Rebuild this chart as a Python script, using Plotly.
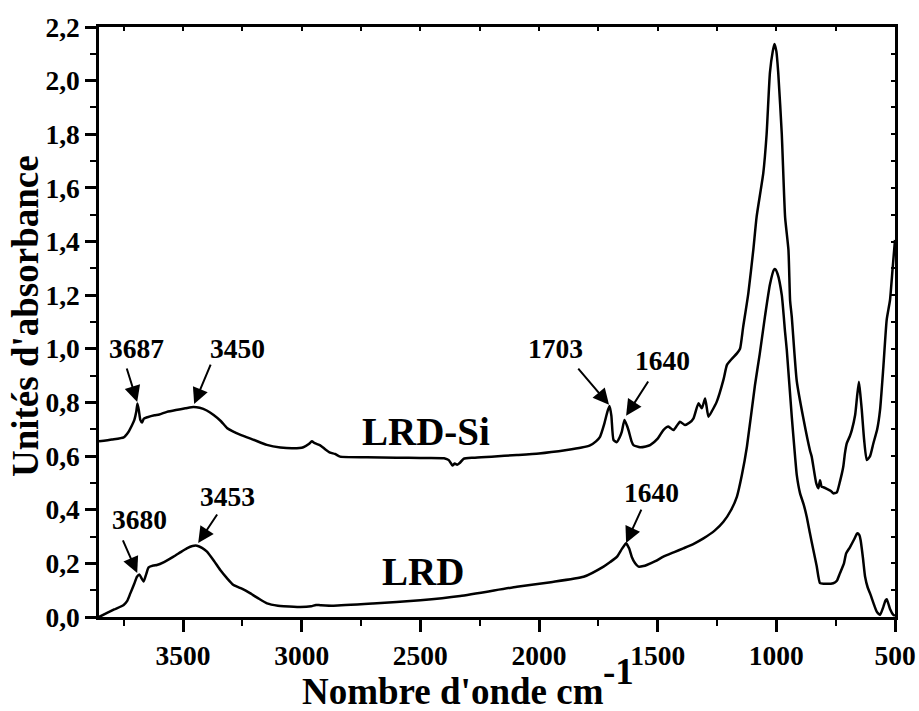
import plotly.graph_objects as go

# ---- data (wavenumber cm-1, absorbance) ----
lrdsi_x = [3854, 3800, 3750, 3730, 3715, 3705, 3697, 3692, 3686, 3680, 3673, 3665, 3650, 3620, 3600,
           3568, 3530, 3490, 3456, 3430, 3400, 3371, 3340, 3315, 3290, 3260, 3200, 3147, 3090, 3035,
           2993, 2970, 2957, 2945, 2922, 2900, 2880, 2860, 2838, 2725, 2600, 2500, 2400, 2380, 2365,
           2355, 2345, 2333, 2318, 2276, 2200, 2093, 2000, 1883, 1820, 1785, 1760, 1743, 1725, 1712,
           1703, 1695, 1686, 1672, 1660, 1651, 1640, 1630, 1623, 1610, 1602, 1574, 1550, 1532, 1500,
           1476, 1455, 1434, 1420, 1406, 1385, 1365, 1349, 1328, 1314, 1300, 1286, 1270, 1251, 1223,
           1208, 1190, 1166, 1153, 1140, 1118, 1097, 1083, 1055, 1041, 1027, 1015, 1008, 1000, 992,
           977, 963, 949, 942, 935, 914, 886, 858, 851, 832, 823, 816, 809, 802, 785,
           770, 760, 745, 732, 718, 711, 703, 690, 682, 668, 660, 652, 645, 640, 630,
           619, 605, 591, 575, 563, 549, 535, 521, 510, 500]
lrdsi_y = [0.655, 0.662, 0.670, 0.690, 0.715, 0.735, 0.765, 0.796, 0.770, 0.735, 0.725, 0.740, 0.745, 0.752, 0.755,
           0.765, 0.772, 0.778, 0.783, 0.780, 0.770, 0.753, 0.730, 0.705, 0.692, 0.680, 0.660, 0.642, 0.632, 0.629,
           0.633, 0.645, 0.655, 0.648, 0.640, 0.625, 0.613, 0.608, 0.598, 0.596, 0.594, 0.593, 0.592, 0.585, 0.565,
           0.572, 0.568, 0.575, 0.590, 0.594, 0.598, 0.604, 0.610, 0.623, 0.632, 0.640, 0.655, 0.672, 0.720, 0.765,
           0.787, 0.750, 0.660, 0.652, 0.670, 0.691, 0.735, 0.715, 0.697, 0.655, 0.641, 0.633, 0.636, 0.641, 0.665,
           0.697, 0.710, 0.697, 0.712, 0.728, 0.716, 0.725, 0.741, 0.797, 0.778, 0.815, 0.747, 0.770, 0.803, 0.884,
           0.940, 0.960, 0.983, 1.000, 1.080, 1.207, 1.369, 1.493, 1.655, 1.800, 2.030, 2.110, 2.137, 2.110, 2.030,
           1.800, 1.490, 1.369, 1.180, 1.120, 0.880, 0.740, 0.620, 0.598, 0.499, 0.480, 0.510, 0.485, 0.484, 0.477,
           0.470, 0.461, 0.465, 0.505, 0.560, 0.610, 0.648, 0.675, 0.697, 0.753, 0.820, 0.877, 0.820, 0.772, 0.660,
           0.585, 0.600, 0.648, 0.700, 0.772, 0.933, 1.108, 1.182, 1.300, 1.406]

lrd_x = [3854, 3820, 3790, 3750, 3735, 3722, 3705, 3694, 3683, 3675, 3666, 3655, 3645, 3625, 3610,
         3580, 3540, 3510, 3484, 3460, 3441, 3420, 3399, 3370, 3343, 3315, 3287, 3250, 3216, 3180,
         3146, 3100, 3076, 3006, 2960, 2940, 2922, 2866, 2700, 2500, 2332, 2093, 1950, 1812, 1728,
         1700, 1672, 1650, 1633, 1620, 1609, 1595, 1581, 1560, 1546, 1510, 1476, 1430, 1392, 1350,
         1307, 1260, 1223, 1190, 1166, 1145, 1124, 1090, 1070, 1048, 1027, 1010, 1005, 995, 977,
         963, 956, 935, 921, 914, 900, 885, 872, 858, 844, 830, 816, 800, 760, 745,
         732, 715, 706, 690, 672, 659, 650, 645, 635, 626, 615, 605, 590, 577, 563,
         549, 540, 535, 528, 521, 507, 500]
lrd_y = [0.000, 0.015, 0.028, 0.045, 0.060, 0.088, 0.125, 0.150, 0.158, 0.145, 0.132, 0.160, 0.185, 0.192, 0.194,
         0.205, 0.225, 0.242, 0.256, 0.265, 0.266, 0.258, 0.244, 0.210, 0.175, 0.145, 0.119, 0.105, 0.088, 0.068,
         0.051, 0.042, 0.040, 0.037, 0.040, 0.045, 0.044, 0.042, 0.050, 0.062, 0.078, 0.113, 0.130, 0.150, 0.188,
         0.205, 0.224, 0.255, 0.275, 0.255, 0.224, 0.200, 0.188, 0.190, 0.194, 0.208, 0.225, 0.242, 0.256, 0.272,
         0.293, 0.322, 0.355, 0.400, 0.449, 0.530, 0.635, 0.865, 0.980, 1.120, 1.240, 1.295, 1.297, 1.280, 1.200,
         1.060, 0.996, 0.747, 0.598, 0.530, 0.461, 0.420, 0.374, 0.310, 0.250, 0.190, 0.126, 0.124, 0.126, 0.135,
         0.163, 0.200, 0.237, 0.260, 0.290, 0.312, 0.305, 0.287, 0.220, 0.150, 0.110, 0.088, 0.050, 0.020, 0.008,
         0.038, 0.062, 0.066, 0.050, 0.030, 0.008, 0.005]

x_ticks = [3500, 3000, 2500, 2000, 1500, 1000, 500]
x_minor = [3750, 3250, 2750, 2250, 1750, 1250, 750]
y_ticks = [0.0, 0.2, 0.4, 0.6, 0.8, 1.0, 1.2, 1.4, 1.6, 1.8, 2.0, 2.2]
x_range = [3854, 500]
y_range = [0, 2.2]

# peak labels: (text, text_x, text_y, tail_x, tail_y, head_x, head_y)
peak_labels = [
    ("3687", 3697, 1.003, 3739, 0.932, 3693, 0.802),
    ("3450", 3272, 1.003, 3381, 0.947, 3453, 0.794),
    ("3680", 3685, 0.362, 3756, 0.291, 3693, 0.164),
    ("3453", 3314, 0.451, 3352, 0.388, 3436, 0.276),
    ("1703", 1932, 1.003, 1840, 0.932, 1705, 0.791),
    ("1640", 1481, 0.958, 1536, 0.884, 1633, 0.750),
    ("1640", 1528, 0.466, 1566, 0.406, 1633, 0.276),
]
series_labels = [("LRD-Si", 2476, 0.69), ("LRD", 2488, 0.168)]

FONT = "Liberation Serif"

fig = go.Figure()
fig.add_trace(go.Scatter(x=lrdsi_x, y=lrdsi_y, mode="lines", name="LRD-Si",
                         line=dict(color="black", width=2.5, shape="spline", smoothing=0.5)))
fig.add_trace(go.Scatter(x=lrd_x, y=lrd_y, mode="lines", name="LRD",
                         line=dict(color="black", width=2.5, shape="spline", smoothing=0.5)))
# invisible trace carrying the mirrored top/right axes (inner ticks)
fig.add_trace(go.Scatter(x=lrd_x, y=lrd_y, mode="lines", xaxis="x2", yaxis="y2",
                         line=dict(color="rgba(0,0,0,0)", width=1), hoverinfo="skip",
                         showlegend=False))

anns = []
for t, tx, ty, ax, ay, hx, hy in peak_labels:
    anns.append(dict(x=tx, y=ty, xref="x", yref="y", text=t, showarrow=False,
                     font=dict(family=FONT, size=27.5, color="black", weight="bold")))
    anns.append(dict(x=hx, y=hy, ax=ax, ay=ay, xref="x", yref="y", axref="x", ayref="y",
                     text="", showarrow=True, arrowhead=2, arrowsize=1.6, arrowwidth=2,
                     arrowcolor="black", standoff=0, startstandoff=0))
for t, tx, ty in series_labels:
    anns.append(dict(x=tx, y=ty, xref="x", yref="y", text=t, showarrow=False,
                     font=dict(family=FONT, size=39, color="black", weight="bold")))

# axis titles
anns.append(dict(x=-0.093, y=0.51, xref="paper", yref="paper", text="Unités d'absorbance",
                 textangle=-90, showarrow=False, xanchor="center", yanchor="middle",
                 font=dict(family=FONT, size=37, color="black", weight="bold")))
anns.append(dict(x=0.2525, y=-0.126, xref="paper", yref="paper", text="Nombre d'onde cm",
                 showarrow=False, xanchor="left", yanchor="middle",
                 font=dict(family=FONT, size=37, color="black", weight="bold")))
anns.append(dict(x=0.631, y=-0.092, xref="paper", yref="paper", text="-1",
                 showarrow=False, xanchor="left", yanchor="middle",
                 font=dict(family=FONT, size=37, color="black", weight="bold")))

tickfont = dict(family=FONT, size=27.5, color="black", weight="bold")

fig.update_layout(
    width=919, height=711,
    margin=dict(l=99, r=24, t=27, b=94, autoexpand=False),
    paper_bgcolor="white", plot_bgcolor="white",
    showlegend=False,
    separators=", ",
    annotations=anns,
    font=dict(family=FONT, color="black"),
    xaxis=dict(
        range=x_range, tickvals=x_ticks, ticktext=[str(v) for v in x_ticks],
        showgrid=False, zeroline=False, automargin=False,
        showline=True, linewidth=2.5, linecolor="black",
        ticks="outside", ticklen=12, tickwidth=2.5, tickcolor="black",
        tickfont=tickfont,
        minor=dict(tickvals=x_minor, ticks="outside", ticklen=6, tickwidth=2, tickcolor="black"),
    ),
    yaxis=dict(
        range=y_range, tickvals=y_ticks, tickformat=".1f",
        showgrid=False, zeroline=False, automargin=False,
        showline=True, linewidth=2.5, linecolor="black",
        ticks="outside", ticklen=11, tickwidth=2.5, tickcolor="black",
        tickfont=tickfont,
        minor=dict(dtick=0.1, ticks="outside", ticklen=6, tickwidth=2, tickcolor="black"),
    ),
    xaxis2=dict(
        range=x_range, overlaying="x", side="top", anchor="y",
        tickvals=x_ticks + x_minor, ticks="inside", ticklen=4, tickwidth=1.5, tickcolor="black",
        showticklabels=False, showgrid=False, zeroline=False, automargin=False,
        showline=True, linewidth=2.5, linecolor="black",
    ),
    yaxis2=dict(
        range=y_range, overlaying="y", side="right", anchor="x",
        dtick=0.1, tick0=0, ticks="inside", ticklen=4, tickwidth=1.5, tickcolor="black",
        showticklabels=False, showgrid=False, zeroline=False, automargin=False,
        showline=True, linewidth=2.5, linecolor="black",
    ),
)

fig.write_html("out.html")
